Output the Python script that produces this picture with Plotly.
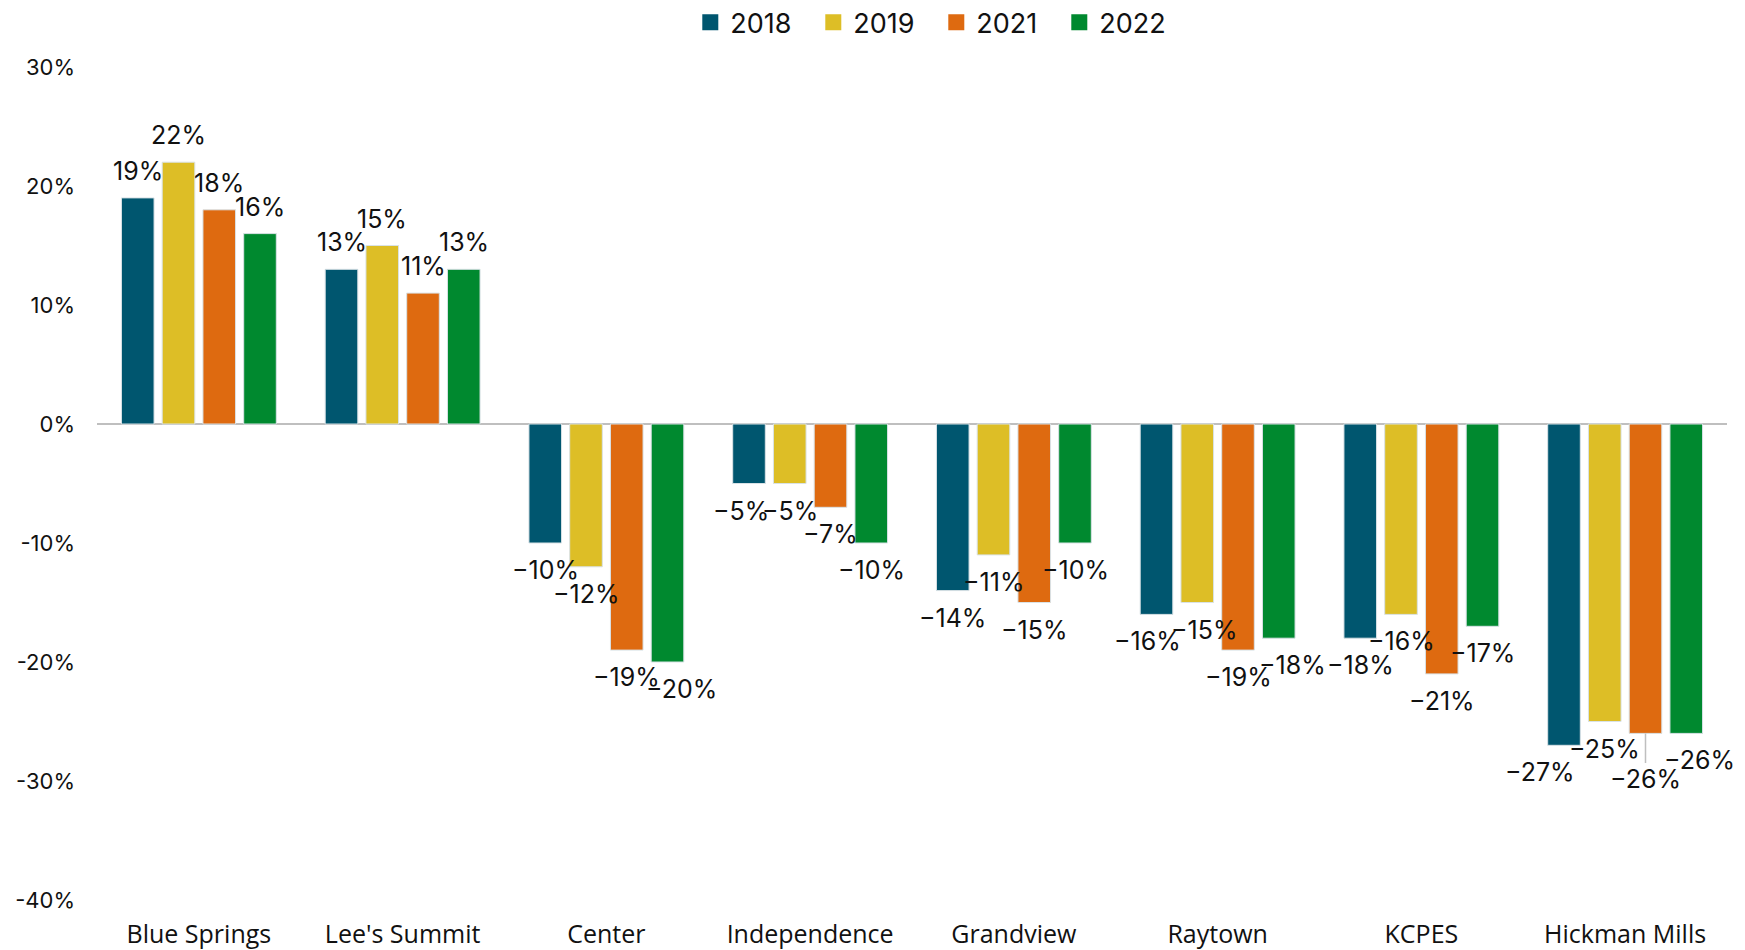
import plotly.graph_objects as go

categories = ["Blue Springs", "Lee's Summit", "Center", "Independence",
              "Grandview", "Raytown", "KCPES", "Hickman Mills"]
series_names = ["2018", "2019", "2021", "2022"]
v2018 = [0.19, 0.13, -0.10, -0.05, -0.14, -0.16, -0.18, -0.27]
v2019 = [0.22, 0.15, -0.12, -0.05, -0.11, -0.15, -0.16, -0.25]
v2021 = [0.18, 0.11, -0.19, -0.07, -0.15, -0.19, -0.21, -0.26]
v2022 = [0.16, 0.13, -0.20, -0.10, -0.10, -0.18, -0.17, -0.26]
colors = ["#00566F", "#DDBE26", "#DE6A10", "#00892F"]
y_ticks = [0.3, 0.2, 0.1, 0.0, -0.1, -0.2, -0.3, -0.4]
y_ticklabels = ["30%", "20%", "10%", "0%", "-10%", "-20%", "-30%", "-40%"]

# label placement nudges (pixels), mimicking the reference's label layout
x_nudge = {("Independence", 0): -8, ("Center", 3): 14, ("Raytown", 0): -9,
           ("Raytown", 1): 7, ("Raytown", 3): 14, ("Hickman Mills", 0): -24,
           ("Hickman Mills", 3): 13}
leader = {("Hickman Mills", 2)}

LABEL_FONT = dict(family="Inter, Roboto, sans-serif", size=25, color="#111111")
BARGAP = 0.2
slot = (1 - BARGAP) / len(series_names)

fig = go.Figure()
all_vals = [v2018, v2019, v2021, v2022]
for j, (name, vals, col) in enumerate(zip(series_names, all_vals, colors)):
    fig.add_trace(go.Bar(
        name=name, x=categories, y=vals, showlegend=False,
        marker=dict(color=col, line=dict(color="#D9E2E6", width=1)),
    ))
    fig.add_trace(go.Scatter(
        name=name, x=[categories[0]], y=[None], mode="markers",
        marker=dict(symbol="square", size=16, color=col), showlegend=True,
    ))

annotations = []
for j, vals in enumerate(all_vals):
    for i, (cat, v) in enumerate(zip(categories, vals)):
        xpos = i + (j - (len(series_names) - 1) / 2) * slot
        txt = f"{round(v*100):d}%".replace("-", "\u2212")
        sign = 1 if v >= 0 else -1
        if (cat, j) in leader:
            annotations.append(dict(
                x=xpos, y=v, xref="x", yref="y", text=txt, font=LABEL_FONT,
                showarrow=True, arrowhead=0, arrowwidth=1.5, arrowcolor="#BFBFBF",
                ax=0, ay=46, standoff=0))
        else:
            annotations.append(dict(
                x=xpos, y=v, xref="x", yref="y", text=txt, font=LABEL_FONT,
                showarrow=False, yanchor="middle", xanchor="center",
                xshift=x_nudge.get((cat, j), 0), yshift=27 * sign))

fig.update_layout(
    width=1745, height=950,
    barmode="group", bargap=BARGAP, bargroupgap=0.2,
    paper_bgcolor="white", plot_bgcolor="white",
    margin=dict(l=89, r=26, t=59, b=58),
    annotations=annotations,
    legend=dict(orientation="h", xref="container", yref="container",
                x=0.391, xanchor="left", y=0.9845, yanchor="middle",
                font=dict(family="Inter, Roboto, sans-serif", size=27, color="#111111"),
                entrywidth=78, entrywidthmode="pixels", itemwidth=30,
                traceorder="normal"),
    xaxis=dict(range=[-0.5, len(categories) - 0.5], autorange=False,
               showgrid=False, showline=False, zeroline=False, automargin=False,
               tickfont=dict(family="Open Sans, sans-serif", size=25, color="#111111"),
               ticklabelstandoff=17),
    yaxis=dict(range=[-0.4, 0.3], tickvals=y_ticks, ticktext=y_ticklabels,
               showgrid=False, zeroline=True, zerolinecolor="#BFBFBF", zerolinewidth=2,
               showline=False, automargin=False,
               tickfont=dict(family="Inter, Roboto, sans-serif", size=22, color="#111111"),
               ticklabelstandoff=21),
)

fig.write_html("out.html")
